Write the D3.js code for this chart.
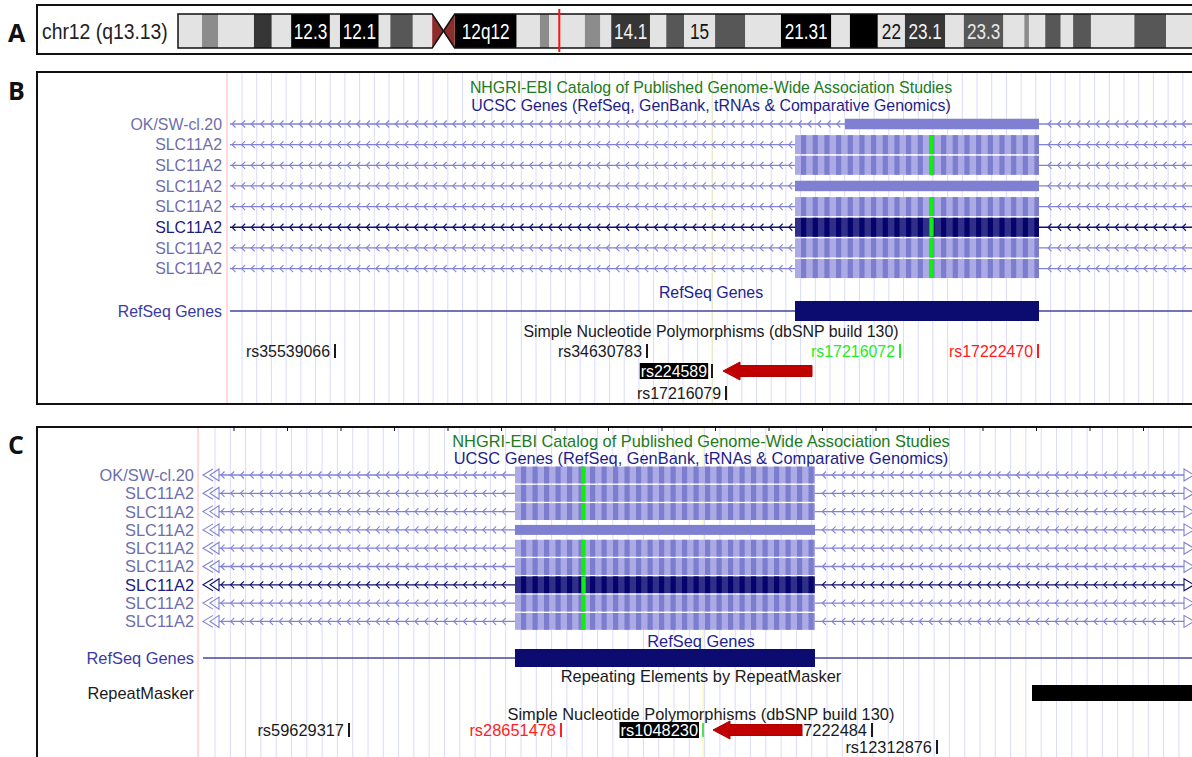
<!DOCTYPE html>
<html>
<head>
<meta charset="utf-8">
<script src="https://cdn.jsdelivr.net/npm/d3@7"></script>
<style>
  body { margin: 0; background: #fff; }
  svg { display: block; }
  text { font-family: "Liberation Sans", Arial, Helvetica, sans-serif; }
</style>
</head>
<body>
<svg id="fig" width="1192" height="757"></svg>
<script>
// ---------------- chromosome 12 ideogram (positions in Mb) ----------------
const bandStart = [0, 3.1, 5.2, 9.8, 12.1, 14.6, 19.6, 20.9, 25.9, 27.4, 30.3, 32.8, 34.25,
  35.7, 43.7, 46.7, 47.9, 52.5, 54.5, 55.9, 60.9, 63.0, 65.3, 69.3, 73.2, 77.8, 84.3, 86.7,
  90.3, 93.8, 99.0, 101.4, 106.5, 109.2, 109.8, 111.9, 113.9, 115.5, 117.8, 123.4, 127.5];
const bandEnd = [3.1, 5.2, 9.8, 12.1, 14.6, 19.6, 20.9, 25.9, 27.4, 30.3, 32.8, 34.25, 35.7,
  43.7, 46.7, 47.9, 52.5, 54.5, 55.9, 60.9, 63.0, 65.3, 69.3, 73.2, 77.8, 84.3, 86.7, 90.3,
  93.8, 99.0, 101.4, 106.5, 109.2, 109.8, 111.9, 113.9, 115.5, 117.8, 123.4, 127.5, 133.8];
const bandStain = ["gneg", "gpos50", "gneg", "gpos75", "gneg", "gpos100", "gneg", "gpos100",
  "gneg", "gpos66", "gneg", "acenP", "acenQ", "gpos100", "gneg", "gpos50", "gneg", "gpos50",
  "gneg", "gpos75", "gneg", "gpos66", "gneg", "gpos66", "gneg", "gpos100", "gneg", "gpos100",
  "gneg", "gpos75", "gneg", "gpos66", "gneg", "gpos50", "gneg", "gpos66", "gneg", "gpos66",
  "gneg", "gpos66", "gneg"];
const bandLabel = ["", "", "", "", "", "12.3", "", "12.1", "", "", "", "", "",
  "12q12", "", "", "", "", "", "14.1", "", "", "15", "", "", "21.31", "", "", "22", "23.1",
  "", "23.3", "", "", "", "", "", "", "", "", ""];
const chromTitle = "chr12 (q13.13)";
const chromLength = 133.8;
const positionMb = 49.2;

// ---------------- panel B: gene region (bp offset in window) ----------------
const geneNamesB = ["OK/SW-cl.20", "SLC11A2", "SLC11A2", "SLC11A2", "SLC11A2", "SLC11A2", "SLC11A2", "SLC11A2"];
const exonStartB = [618, 568, 568, 568, 568, 568, 568, 568];
const exonEndB   = [812, 812, 812, 812, 812, 812, 812, 812];
const exonTypeB  = ["utr", "cds", "cds", "utr", "cds", "cds", "cds", "cds"];
const selectedB = 5;
const gwasB = 704.5;
const refseqB = [568, 812];
const cursorB = 485;
const snpNameB  = ["rs35539066", "rs34630783", "rs17216072", "rs17222470", "rs224589", "rs17216079"];
const snpPosB   = [108, 420, 673, 811, 485, 499];
const snpLineB  = [0, 0, 0, 0, 1, 2];
const snpColorB = ["#1a1a1a", "#1a1a1a", "#22ee22", "#ff1a1a", "#1a1a1a", "#1a1a1a"];
const snpFocusB = "rs224589";
const arrowB = [496, 585];

// ---------------- panel C: gene region (bp offset in window) ----------------
const geneNamesC = ["OK/SW-cl.20", "SLC11A2", "SLC11A2", "SLC11A2", "SLC11A2", "SLC11A2", "SLC11A2", "SLC11A2", "SLC11A2"];
const exonStartC = [317, 317, 317, 317, 317, 317, 317, 317, 317];
const exonEndC   = [617, 617, 617, 617, 617, 617, 617, 617, 617];
const exonTypeC  = ["cds", "cds", "cds", "utr", "cds", "cds", "cds", "cds", "cds"];
const selectedC = 6;
const gwasC = 385.5;
const refseqC = [317, 617];
const repeatC = [834, 1000];
const cursorC = 505;
const snpNameC  = ["rs59629317", "rs28651478", "rs1048230", "rs17222484", "rs12312876"];
const snpPosC   = [151, 363, 505, 674, 739];
const snpLineC  = [0, 0, 0, 0, 1];
const snpColorC = ["#1a1a1a", "#ff2020", "#1a1a1a", "#1a1a1a", "#1a1a1a"];
const snpTickC  = ["#1a1a1a", "#ff2020", "#55dd55", "#1a1a1a", "#1a1a1a"];
const snpFocusC = "rs1048230";
const arrowC = [515, 604];

const trackTitles = {
  gwas: "NHGRI-EBI Catalog of Published Genome-Wide Association Studies",
  ucsc: "UCSC Genes (RefSeq, GenBank, tRNAs & Comparative Genomics)",
  refseq: "RefSeq Genes",
  rmsk: "Repeating Elements by RepeatMasker",
  snp: "Simple Nucleotide Polymorphisms (dbSNP build 130)"
};

// ---------------- drawing ----------------
const W = 1192, H = 757;
const svg = d3.select("#fig");
svg.append("rect").attr("width", W).attr("height", H).attr("fill", "#fff");

const stainFill = { gneg: "#e3e3e3", gpos50: "#8c8c8c", gpos66: "#575757", gpos75: "#363636", gpos100: "#000", acenP: "#8e2b2b", acenQ: "#8e2b2b" };
const stainText = { gneg: "#111", gpos50: "#111", gpos66: "#e8e8e8", gpos75: "#f2f2f2", gpos100: "#fff" };

// panel letters
[["A", 33], ["B", 91], ["C", 445]].forEach(([t, y]) => {
  svg.append("text").attr("x", 8).attr("y", y).attr("dy", "0.36em")
    .style("font-family", "'Open Sans', 'DejaVu Sans', sans-serif")
    .style("font-weight", 700).style("font-size", "25px").attr("fill", "#111").text(t);
});

// ---- panel A: ideogram ----
const gA = svg.append("g");
gA.append("rect").attr("x", 37).attr("y", 5).attr("width", 1200).attr("height", 49)
  .attr("fill", "#fff").attr("stroke", "#111").attr("stroke-width", 2);
gA.append("text").attr("x", 42).attr("y", 31).attr("dy", "0.36em")
  .attr("transform", "translate(42,0) scale(0.9,1) translate(-42,0)")
  .style("font-size", "21.5px").attr("fill", "#222").text(chromTitle);

const xc = d3.scaleLinear().domain([0, chromLength]).range([178, 178 + chromLength * 7.75]);
const iy0 = 14, iy1 = 48, imid = (iy0 + iy1) / 2;
const bands = bandStart.map((s, i) => ({ s, e: bandEnd[i], stain: bandStain[i], label: bandLabel[i] }));

gA.selectAll("rect.band").data(bands.filter(b => !b.stain.startsWith("acen"))).join("rect")
  .attr("class", "band")
  .attr("x", d => xc(d.s)).attr("y", iy0)
  .attr("width", d => xc(d.e) - xc(d.s)).attr("height", iy1 - iy0)
  .attr("fill", d => stainFill[d.stain]);

gA.selectAll("path.cen").data(bands.filter(b => b.stain.startsWith("acen"))).join("path")
  .attr("class", "cen")
  .attr("d", d => d.stain === "acenP"
    ? `M${xc(d.s)},${iy0} L${xc(d.e)},${imid} L${xc(d.s)},${iy1} Z`
    : `M${xc(d.e)},${iy0} L${xc(d.s)},${imid} L${xc(d.e)},${iy1} Z`)
  .attr("fill", d => stainFill[d.stain]);

// arm outlines
const pEnd = bands.find(b => b.stain === "acenP").s;
const qStart = bands.find(b => b.stain === "acenQ").e;
const cenMid = bands.find(b => b.stain === "acenP").e;
gA.append("path")
  .attr("d", `M${xc(pEnd)},${iy0} L${xc(0)},${iy0} L${xc(0)},${iy1} L${xc(pEnd)},${iy1} L${xc(cenMid)},${imid} Z`)
  .attr("fill", "none").attr("stroke", "#111").attr("stroke-width", 1.5);
gA.append("path")
  .attr("d", `M${xc(qStart)},${iy0} L${xc(chromLength)},${iy0} L${xc(chromLength)},${iy1} L${xc(qStart)},${iy1} L${xc(cenMid)},${imid} Z`)
  .attr("fill", "none").attr("stroke", "#111").attr("stroke-width", 1.5);

gA.selectAll("text.bl").data(bands.filter(b => b.label)).join("text")
  .attr("class", "bl")
  .attr("transform", d => `translate(${(xc(d.s) + xc(d.e)) / 2},${imid}) scale(0.78,1)`)
  .attr("text-anchor", "middle").attr("dy", "0.36em")
  .style("font-size", "22px")
  .attr("fill", d => stainText[d.stain]).text(d => d.label);

gA.append("line").attr("x1", xc(positionMb)).attr("x2", xc(positionMb))
  .attr("y1", 9).attr("y2", 52).attr("stroke", "#ff1010").attr("stroke-width", 2);

// ---- genome browser panels ----
function chevrons(x, y, step, a, b, skipA, skipB) {
  return d3.range(a, b, step).filter(v => v < skipA - 3 || v > skipB + 3)
    .map(v => `M${x(v) + 3.5},${y - 3.5}L${x(v)},${y}L${x(v) + 3.5},${y + 3.5}`).join("");
}

function drawPanel(P) {
  const g = svg.append("g");
  g.append("rect").attr("x", 37).attr("y", P.top).attr("width", 1200).attr("height", P.bottom - P.top)
    .attr("fill", "#fff").attr("stroke", "#111").attr("stroke-width", 2);
  const x = d3.scaleLinear().domain([0, 1000]).range([P.x0, P.x0 + 1000]);
  const y1 = P.top + 1, y2 = Math.min(P.bottom - 1, H);

  g.selectAll("line.grid").data(d3.range(P.gridFirst, 1000, P.gridStep)).join("line")
    .attr("class", "grid")
    .attr("x1", d => x(d)).attr("x2", d => x(d)).attr("y1", y1).attr("y2", y2)
    .attr("stroke", "#dadafc").attr("stroke-width", 1);
  g.append("line").attr("x1", x(0)).attr("x2", x(0)).attr("y1", y1).attr("y2", y2)
    .attr("stroke", "#ffb4b4").attr("stroke-width", 1);
  g.append("line").attr("x1", x(P.cursor)).attr("x2", x(P.cursor)).attr("y1", y1).attr("y2", y2)
    .attr("stroke", "#f6f69a").attr("stroke-width", 1);

  if (P.ruler) {
    g.selectAll("line.rt").data(d3.range(P.ruler[0], 1000, P.ruler[1])).join("line")
      .attr("x1", d => x(d)).attr("x2", d => x(d)).attr("y1", P.top).attr("y2", P.top + 4)
      .attr("stroke", "#111").attr("stroke-width", 1);
  }

  const fs = P.fontSize;
  const title = (t, yy, color) => g.append("text").attr("x", P.titleX).attr("y", yy).attr("dy", "0.36em")
    .attr("text-anchor", "middle").style("font-size", fs + "px").attr("fill", color).text(t);
  title(trackTitles.gwas, P.titleY[0], "#217a21");
  title(trackTitles.ucsc, P.titleY[1], "#1e1e85");

  // gene rows
  P.names.forEach((name, i) => {
    const cy = P.rowY0 + i * P.rowStep;
    const sel = i === P.selected;
    const lineCol = sel ? "#10106e" : "#8282d4";
    g.append("text").attr("x", P.labelX).attr("y", cy).attr("dy", "0.36em").attr("text-anchor", "end")
      .style("font-size", fs + "px").attr("fill", sel ? "#1b1b80" : "#6e6eab").text(name);
    g.append("line").attr("x1", x(P.intron[0])).attr("x2", x(P.intron[1])).attr("y1", cy).attr("y2", cy)
      .attr("stroke", lineCol).attr("stroke-width", 1.3);
    g.append("path").attr("d", chevrons(x, cy, P.chevStep, P.intron[0] + 2, P.intron[1] - 4, P.exS[i], P.exE[i]))
      .attr("fill", "none").attr("stroke", lineCol).attr("stroke-width", 1.1);
    if (P.ends) {
      const xa = x(P.intron[0]);
      g.append("path")
        .attr("d", `M${xa - 6},${cy - 6}L${xa - 16},${cy}L${xa - 6},${cy + 6}M${xa},${cy - 6}L${xa - 9},${cy}L${xa},${cy + 6}Z`)
        .attr("fill", "none").attr("stroke", lineCol).attr("stroke-width", 1.1);
      const xb = x(P.intron[1]);
      g.append("path").attr("d", `M${xb},${cy - 6}L${xb + 10},${cy}L${xb},${cy + 6}Z`)
        .attr("fill", "none").attr("stroke", lineCol).attr("stroke-width", 1.1);
    }
    const xs = x(P.exS[i]), xe = x(P.exE[i]);
    if (P.types[i] === "utr") {
      g.append("rect").attr("x", xs).attr("y", cy - P.utrH / 2).attr("width", xe - xs).attr("height", P.utrH)
        .attr("fill", "#8080d2");
    } else {
      g.append("rect").attr("x", xs).attr("y", cy - P.cdsH / 2).attr("width", xe - xs).attr("height", P.cdsH)
        .attr("fill", sel ? "#30308a" : "#abaae4");
      g.selectAll(null).data(d3.range(P.exS[i] + 6, P.exE[i] - 1, P.stripeStep)).join("rect")
        .attr("x", d => x(d)).attr("y", cy - P.cdsH / 2)
        .attr("width", d => Math.min(5.2, xe - x(d))).attr("height", P.cdsH)
        .attr("fill", sel ? "#04046a" : "#7d7dd0");
      g.append("rect").attr("x", x(P.gwas) - 2.2).attr("y", cy - P.cdsH / 2).attr("width", 4.4).attr("height", P.cdsH)
        .attr("fill", "#10ee10");
    }
  });

  // RefSeq track
  title(trackTitles.refseq, P.refTitleY, "#23238e");
  g.append("text").attr("x", P.labelX).attr("y", P.refY).attr("dy", "0.36em").attr("text-anchor", "end")
    .style("font-size", fs + "px").attr("fill", "#3a3aa2").text("RefSeq Genes");
  g.append("line").attr("x1", x(P.refLine)).attr("x2", x(1000)).attr("y1", P.refY).attr("y2", P.refY)
    .attr("stroke", "#4545a0").attr("stroke-width", 1.4);
  g.append("rect").attr("x", x(P.refseq[0])).attr("y", P.refY - P.refH / 2)
    .attr("width", x(P.refseq[1]) - x(P.refseq[0])).attr("height", P.refH).attr("fill", "#0b0b70");

  // RepeatMasker track
  if (P.repeat) {
    title(trackTitles.rmsk, P.rmskTitleY, "#1a1a1a");
    g.append("text").attr("x", P.labelX).attr("y", P.rmskY).attr("dy", "0.36em").attr("text-anchor", "end")
      .style("font-size", fs + "px").attr("fill", "#1a1a1a").text("RepeatMasker");
    g.append("rect").attr("x", x(P.repeat[0])).attr("y", P.rmskY - 8)
      .attr("width", x(P.repeat[1]) - x(P.repeat[0])).attr("height", 16).attr("fill", "#000");
  }

  // SNP track
  title(trackTitles.snp, P.snpTitleY, "#1a1a1a");
  P.snpName.forEach((nm, i) => {
    const cy = P.snpY[P.snpLine[i]];
    const tx = x(P.snpPos[i]);
    const t = g.append("text").attr("x", tx - 5).attr("y", cy).attr("dy", "0.36em").attr("text-anchor", "end")
      .style("font-size", fs + "px").attr("fill", nm === P.focus ? "#fff" : P.snpColor[i]).text(nm);
    if (nm === P.focus) {
      const bb = t.node().getBBox();
      g.insert("rect", () => t.node()).attr("x", bb.x - 1).attr("y", cy - 8).attr("width", bb.width + 2).attr("height", 16)
        .attr("fill", "#000");
    }
    g.append("line").attr("x1", tx).attr("x2", tx).attr("y1", cy - 7).attr("y2", cy + 7)
      .attr("stroke", P.snpTick[i]).attr("stroke-width", 2);
  });

  // pointer arrow toward the highlighted SNP
  const ay = P.snpY[P.arrowLine];
  const ax0 = x(P.arrow[0]), ax1 = x(P.arrow[1]);
  g.append("path")
    .attr("d", `M${ax0},${ay} L${ax0 + 17},${ay - 9} L${ax0 + 17},${ay - 5.5} L${ax1},${ay - 5.5} L${ax1},${ay + 5.5} L${ax0 + 17},${ay + 5.5} L${ax0 + 17},${ay + 9} Z`)
    .attr("fill", "#c00000").attr("stroke", "#b00000").attr("stroke-width", 1).attr("stroke-linejoin", "round");
}

drawPanel({
  top: 72, bottom: 404, x0: 227, gridFirst: 15, gridStep: 14.7, cursor: cursorB, fontSize: 15.9,
  titleX: 711, titleY: [87, 105],
  names: geneNamesB, exS: exonStartB, exE: exonEndB, types: exonTypeB, selected: selectedB, gwas: gwasB,
  rowY0: 124, rowStep: 20.65, cdsH: 19, utrH: 10.5, labelX: 222, intron: [3, 1000], chevStep: 9.6,
  stripeStep: 11.67,
  refTitleY: 292, refY: 311, refH: 20, refLine: 3, refseq: refseqB,
  snpTitleY: 331, snpY: [351, 371, 393], snpName: snpNameB, snpPos: snpPosB, snpLine: snpLineB,
  snpColor: snpColorB, snpTick: snpColorB.map(c => c), focus: snpFocusB, arrow: arrowB, arrowLine: 1
});

drawPanel({
  top: 427, bottom: 780, x0: 198, gridFirst: 17, gridStep: 15.3, cursor: cursorC, fontSize: 16.4,
  ruler: [36, 53.5],
  titleX: 701, titleY: [441, 458],
  names: geneNamesC, exS: exonStartC, exE: exonEndC, types: exonTypeC, selected: selectedC, gwas: gwasC,
  rowY0: 475, rowStep: 18.3, cdsH: 16.8, utrH: 10, labelX: 194, intron: [21, 986], chevStep: 9.7, ends: true,
  stripeStep: 11.5,
  refTitleY: 641, refY: 658, refH: 18, refLine: 5, refseq: refseqC,
  repeat: repeatC, rmskTitleY: 676, rmskY: 693,
  snpTitleY: 714, snpY: [730, 747], snpName: snpNameC, snpPos: snpPosC, snpLine: snpLineC,
  snpColor: snpColorC, snpTick: snpTickC, focus: snpFocusC, arrow: arrowC, arrowLine: 0
});
</script>
</body>
</html>
